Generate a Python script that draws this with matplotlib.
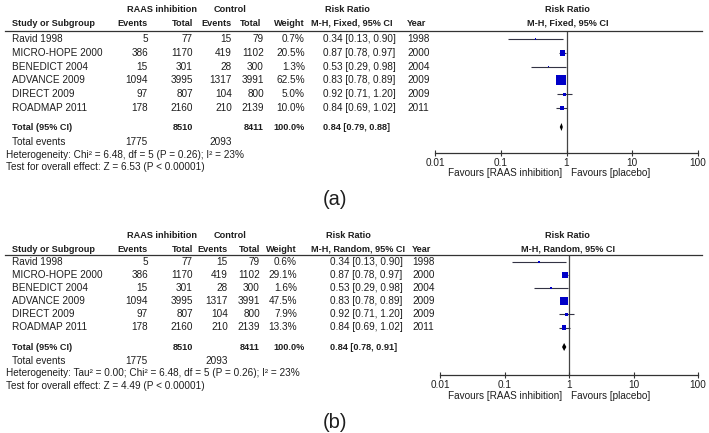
import matplotlib
matplotlib.use("Agg")
import matplotlib.pyplot as plt
from matplotlib.lines import Line2D
from matplotlib import font_manager as fm
import numpy as np

W, H, DPI = 709, 433, 100

# ---------------- data ----------------
studies = ["Ravid 1998", "MICRO-HOPE 2000", "BENEDICT 2004", "ADVANCE 2009", "DIRECT 2009", "ROADMAP 2011"]
raas_events = [5, 386, 15, 1094, 97, 178]
raas_total = [77, 1170, 301, 3995, 807, 2160]
ctrl_events = [15, 419, 28, 1317, 104, 210]
ctrl_total = [79, 1102, 300, 3991, 800, 2139]
years = [1998, 2000, 2004, 2009, 2009, 2011]
rr = [0.34, 0.87, 0.53, 0.83, 0.92, 0.84]
rr_lo = [0.13, 0.78, 0.29, 0.78, 0.71, 0.69]
rr_hi = [0.90, 0.97, 0.98, 0.89, 1.20, 1.02]
weights_fixed = [0.7, 20.5, 1.3, 62.5, 5.0, 10.0]
weights_random = [0.6, 29.1, 1.6, 47.5, 7.9, 13.3]
total_raas_events, total_ctrl_events = 1775, 2093
total_raas_n, total_ctrl_n = 8510, 8411
pooled_fixed = (0.84, 0.79, 0.88)
pooled_random = (0.84, 0.78, 0.91)
het_fixed = "Heterogeneity: Chi\u00b2 = 6.48, df = 5 (P = 0.26); I\u00b2 = 23%"
het_random = "Heterogeneity: Tau\u00b2 = 0.00; Chi\u00b2 = 6.48, df = 5 (P = 0.26); I\u00b2 = 23%"
test_fixed = "Test for overall effect: Z = 6.53 (P < 0.00001)"
test_random = "Test for overall effect: Z = 4.49 (P < 0.00001)"
tick_vals = [0.01, 0.1, 1, 10, 100]
tick_labels = ["0.01", "0.1", "1", "10", "100"]

plt.rcParams['font.family'] = ['Liberation Sans', 'DejaVu Sans']
_names = {f.name for f in fm.fontManager.ttflist}
if 'Liberation Sans Narrow' in _names:
    BOLD_FAM, BLD = ['Liberation Sans Narrow', 'Liberation Sans'], 7.6
else:
    BOLD_FAM, BLD = ['Liberation Sans', 'DejaVu Sans'], 6.6

fig = plt.figure(figsize=(W / DPI, H / DPI), dpi=DPI)

TXT = '#1e1e1e'
REG = 7.2


def fx(x):
    return x / W


def fy(y):
    return 1 - y / H


def txt(x, y, s, ha='left', bold=False):
    if bold:
        fig.text(fx(x), fy(y), s, ha=ha, va='center', fontsize=BLD, fontweight='bold',
                 family=BOLD_FAM, color=TXT)
    else:
        fig.text(fx(x), fy(y), s, ha=ha, va='center', fontsize=REG, color=TXT)


def panel(L, method, weights, pooled, het, test, label, box_k):
    # headers
    txt(162, L['r1'], "RAAS inhibition", ha='center', bold=True)
    txt(230, L['r1'], "Control", ha='center', bold=True)
    txt(L['rrh'], L['r1'], "Risk Ratio", ha='center', bold=True)
    txt(567, L['r1'], "Risk Ratio", ha='center', bold=True)
    txt(12, L['r2'], "Study or Subgroup", bold=True)
    txt(148, L['r2'], "Events", ha='right', bold=True)
    txt(193, L['r2'], "Total", ha='right', bold=True)
    txt(L['ce'], L['r2'], "Events", ha='right', bold=True)
    txt(L['cth'], L['r2'], "Total", ha='right', bold=True)
    txt(L['wr'], L['r2'], "Weight", ha='right', bold=True)
    txt(L['mhh'], L['r2'], "M-H, %s, 95%% CI" % method, ha='center', bold=True)
    txt(L['year'], L['r2'], "Year", bold=True)
    txt(568, L['r2'], "M-H, %s, 95%% CI" % method, ha='center', bold=True)
    fig.add_artist(Line2D([fx(5), fx(702)], [fy(L['line'])] * 2, color='#333333', lw=0.9))

    ys = [L['first'] + i * L['dy'] for i in range(len(studies))]
    for i, y in enumerate(ys):
        txt(12, y, studies[i])
        txt(148, y, str(raas_events[i]), ha='right')
        txt(193, y, str(raas_total[i]), ha='right')
        txt(L['ce'], y, str(ctrl_events[i]), ha='right')
        txt(L['ct'], y, str(ctrl_total[i]), ha='right')
        txt(L['wr'], y, "%.1f%%" % weights[i], ha='right')
        txt(L['rr'], y, "%.2f [%.2f, %.2f]" % (rr[i], rr_lo[i], rr_hi[i]))
        txt(L['year'], y, str(years[i]))

    ty = L['total']
    txt(12, ty, "Total (95% CI)", bold=True)
    txt(193, ty, str(total_raas_n), ha='right', bold=True)
    txt(L['ct'], ty, str(total_ctrl_n), ha='right', bold=True)
    txt(305, ty, "%.1f%%" % sum(weights), ha='right', bold=True)
    txt(L['rr'], ty, "%.2f [%.2f, %.2f]" % pooled, bold=True)
    txt(12, L['tev'], "Total events")
    txt(148, L['tev'], str(total_raas_events), ha='right')
    txt(L['ce'], L['tev'], str(total_ctrl_events), ha='right')
    txt(6, L['het'], het)
    txt(6, L['test'], test)

    # forest plot
    x0, x1, ay = L['ax0'], L['ax1'], L['axis']
    ax = fig.add_axes([fx(x0), fy(ay), (x1 - x0) / W, (ay - L['line']) / H])
    ax.set_xscale('log')
    ax.set_xlim(tick_vals[0], tick_vals[-1])
    ax.set_ylim(ay, L['line'])
    ax.patch.set_alpha(0)
    for s in ['top', 'left', 'right']:
        ax.spines[s].set_visible(False)
    ax.spines['bottom'].set_color('#333333')
    ax.spines['bottom'].set_linewidth(0.9)
    ax.set_yticks([])
    ax.set_xticks(tick_vals)
    ax.set_xticklabels(tick_labels)
    ax.minorticks_off()
    ax.tick_params(axis='x', direction='inout', length=5, width=0.8, color='#333333',
                   labelsize=REG, labelcolor=TXT, pad=1)
    ax.axvline(1, color='#444444', lw=0.9, zorder=1)
    ax.hlines(ys, rr_lo, rr_hi, color='#333344', lw=0.8, zorder=2)
    sides_pt = [max(box_k * np.sqrt(w), 1.6) * 72 / DPI for w in weights]
    ax.scatter(rr, ys, s=[s ** 2 for s in sides_pt], marker='s', color='#0000c8',
               linewidths=0, zorder=3)
    est, lo, hi = pooled
    h = 4
    ax.fill([lo, est, hi, est], [ty, ty - h, ty, ty + h], color='black', lw=0, zorder=3)

    txt(562, L['fav'], "Favours [RAAS inhibition]", ha='right')
    txt(571, L['fav'], "Favours [placebo]")
    fig.text(fx(335), fy(L['label']), label, ha='center', va='center', fontsize=14.5, color=TXT)


LA = dict(r1=9, r2=23, line=31, first=39, dy=13.8, total=127, tev=142, het=154.5, test=166.5,
          axis=153, ax0=435, ax1=698, fav=173, label=200, ce=232, cth=261, ct=264, wr=305,
          rr=323, rrh=347, mhh=352, year=407)
LB = dict(r1=235, r2=249, line=255, first=262, dy=13.1, total=347, tev=361, het=373.5, test=386,
          axis=375, ax0=440, ax1=698, fav=396, label=422, ce=228, cth=260, ct=260, wr=297,
          rr=330, rrh=348, mhh=358, year=412)

panel(LA, "Fixed", weights_fixed, pooled_fixed, het_fixed, test_fixed, "(a)", 1.27)
panel(LB, "Random", weights_random, pooled_random, het_random, test_random, "(b)", 1.17)

fig.savefig("out.png", dpi=DPI)
